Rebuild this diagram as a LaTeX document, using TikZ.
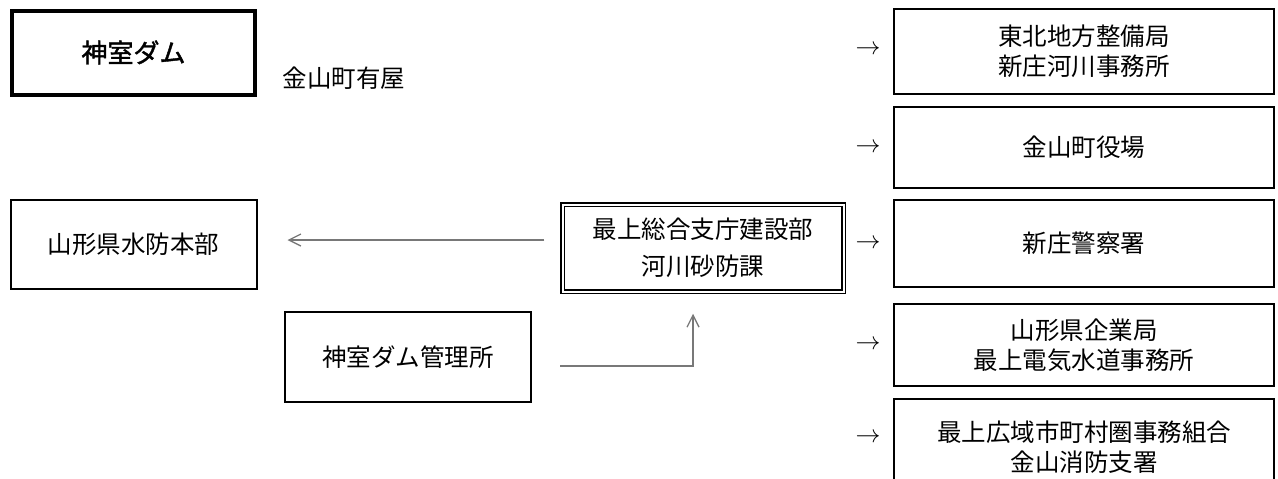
\documentclass[tikz,border=0pt]{standalone}
\usepackage{fontspec}
\setmainfont{Noto Sans CJK JP}
\newfontfamily\damfont{Noto Sans CJK JP}[FakeBold=1.6]
\usetikzlibrary{arrows.meta}
\definecolor{linegray}{RGB}{120,120,120}
\begin{document}
\begin{tikzpicture}[x=1pt,y=-1pt,
  box/.style={draw=black,line width=2pt,rectangle,inner sep=0pt,align=center,
    font=\fontsize{24.5}{30}\selectfont},
  txt/.style={inner sep=0pt,font=\fontsize{24.5}{30}\selectfont},
  rarrow/.style={inner sep=0pt,font=\fontsize{23}{30}\selectfont},
  conn/.style={draw=linegray,line width=1.3pt,-{Straight Barb[length=12pt,width=12pt]}}
]
\useasboundingbox[fill=white] (0,0) rectangle (1278,479);

\node[box,line width=4pt,minimum width=243pt,minimum height=84pt,
  font=\fontsize{26}{30}\damfont] (dam) at (133.5,52.5) {神室ダム};
\node[txt] (loc) at (344,78) {金山町有屋};

\node[box,minimum width=246pt,minimum height=89pt] (honbu) at (133.5,244) {山形県水防本部};
\node[box,double,line width=1.5pt,double distance=2pt,minimum width=281pt,minimum height=87pt,
  font=\fontsize{24.5}{37}\selectfont] (kasen) at (703,248) {最上総合支庁建設部\\河川砂防課};
\node[box,minimum width=246pt,minimum height=90pt] (kanri) at (408,357) {神室ダム管理所};

\node[box,minimum width=380pt,minimum height=85pt] (r1) at (1084,51.5) {東北地方整備局\\新庄河川事務所};
\node[box,minimum width=380pt,minimum height=81pt] (r2) at (1084,147.5) {金山町役場};
\node[box,minimum width=380pt,minimum height=87pt] (r3) at (1084,243.5) {新庄警察署};
\node[box,minimum width=380pt,minimum height=82pt] (r4) at (1084,345) {山形県企業局\\最上電気水道事務所};
\node[box,minimum width=380pt,minimum height=96pt] (r5) at (1084,447) {最上広域市町村圏事務組合\\金山消防支署};

\node[rarrow] (a1) at (868,50) {$\rightarrow$};
\node[rarrow] (a2) at (868,148) {$\rightarrow$};
\node[rarrow] (a3) at (868,244) {$\rightarrow$};
\node[rarrow] (a4) at (868,345) {$\rightarrow$};
\node[rarrow] (a5) at (868,438) {$\rightarrow$};

\draw[conn,shorten <=17.5pt,shorten >=30pt] ([yshift=8pt]kasen.west) -- ([yshift=4pt]honbu.east);
\coordinate (ks) at (560,366);
\draw[conn,shorten >=21.5pt] (ks) -| ([xshift=-10pt]kasen.south);
\end{tikzpicture}
\end{document}
